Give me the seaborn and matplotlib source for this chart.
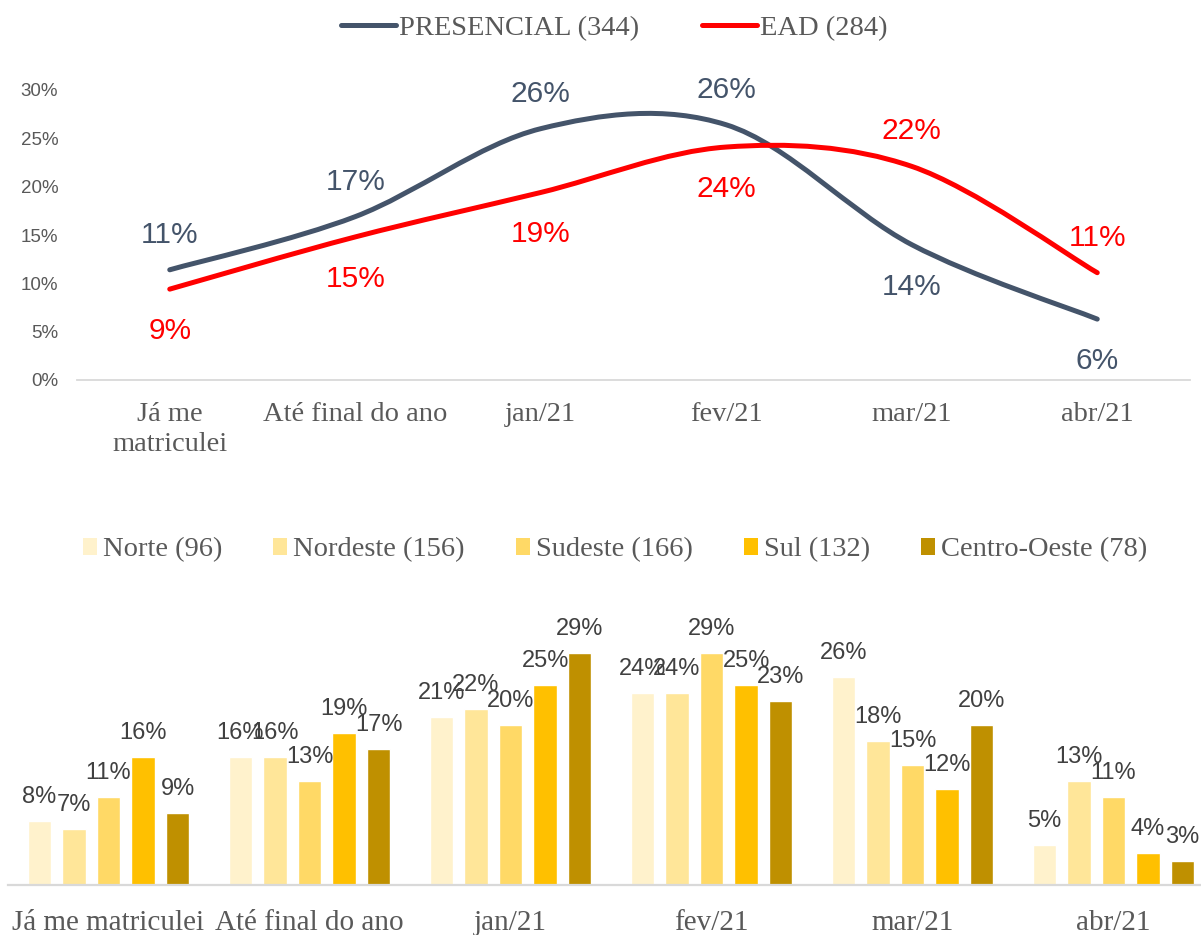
import numpy as np
import pandas as pd
import matplotlib
matplotlib.use('Agg')
import matplotlib.pyplot as plt
import seaborn as sns
from matplotlib.path import Path
from matplotlib.patches import PathPatch, Patch
from matplotlib.lines import Line2D
from matplotlib.ticker import PercentFormatter

# ==========================================
# DADOS
# ==========================================
CATEGORIES = ["Já me matriculei", "Até final do ano", "jan/21", "fev/21", "mar/21", "abr/21"]
TOP_TICK_LABELS = ["Já me\nmatriculei", "Até final do ano", "jan/21", "fev/21", "mar/21", "abr/21"]

PRESENCIAL = [0.114, 0.169, 0.260, 0.264, 0.140, 0.063]
EAD = [0.094, 0.148, 0.194, 0.241, 0.221, 0.111]
LINE_NAMES = ["PRESENCIAL (344)", "EAD (284)"]

REGIONS = ["Norte (96)", "Nordeste (156)", "Sudeste (166)", "Sul (132)", "Centro-Oeste (78)"]
NORTE = [0.08, 0.16, 0.21, 0.24, 0.26, 0.05]
NORDESTE = [0.07, 0.16, 0.22, 0.24, 0.18, 0.13]
SUDESTE = [0.11, 0.13, 0.20, 0.29, 0.15, 0.11]
SUL = [0.16, 0.19, 0.25, 0.25, 0.12, 0.04]
CENTRO_OESTE = [0.09, 0.17, 0.29, 0.23, 0.20, 0.03]

# ==========================================
# ESTILO
# ==========================================
LINE_COLORS = ["#44546A", "#FF0000"]
BAR_COLORS = ["#FFF2CC", "#FFE699", "#FFD966", "#FFC000", "#BF9000"]
TEXT_GRAY = "#595959"
LABEL_GRAY = "#404040"
AXIS_GRAY = "#D9D9D9"
SERIF = ["Liberation Serif", "DejaVu Serif"]
SANS = ["Liberation Sans", "DejaVu Sans"]

W, H = 1201, 935


def smooth_path(values):
    """Curva suavizada (estilo Excel) passando pelos pontos, em coordenadas de dados."""
    pts = np.column_stack([np.arange(len(values)), values]).astype(float)
    verts = [pts[0]]
    codes = [Path.MOVETO]
    n = len(pts)
    for i in range(n - 1):
        p_prev = pts[i - 1] if i > 0 else pts[i]
        p_next = pts[i + 2] if i + 2 < n else pts[i + 1]
        c1 = pts[i] + (pts[i + 1] - p_prev) / 6
        c2 = pts[i + 1] - (p_next - pts[i]) / 6
        verts += [c1, c2, pts[i + 1]]
        codes += [Path.CURVE4] * 3
    return Path(verts, codes)


def plot_lines(fig):
    ax = fig.add_axes([77 / W, (H - 380) / H, 1113 / W, 290 / H])
    ax.set_xlim(-0.5, len(CATEGORIES) - 0.5)
    ax.set_ylim(0, 0.30)

    series = [PRESENCIAL, EAD]
    for k, (vals, color) in enumerate(zip(series, LINE_COLORS)):
        patch = PathPatch(smooth_path(vals), facecolor="none", edgecolor=color,
                          lw=3.6, capstyle="round", joinstyle="round", zorder=3 + k)
        ax.add_patch(patch)
        other = series[1 - k]
        for i, v in enumerate(vals):
            above = v >= other[i]
            ax.annotate(f"{v:.0%}", (i, v), xytext=(0, 19.5 if above else -36),
                        textcoords="offset points", ha="center", va="baseline",
                        fontsize=21.5, color=color, family=SANS, annotation_clip=False)

    ax.set_yticks(np.arange(0, 0.301, 0.05))
    ax.yaxis.set_major_formatter(PercentFormatter(1.0, decimals=0))
    ax.set_xticks(range(len(CATEGORIES)))
    ax.set_xticklabels(TOP_TICK_LABELS)
    ax.tick_params(axis="y", length=0, pad=13.5, labelsize=13.5, labelcolor=TEXT_GRAY)
    ax.tick_params(axis="x", length=0, pad=15.5, labelsize=20.5, labelcolor=TEXT_GRAY)
    for lbl in ax.get_xticklabels():
        lbl.set_family(SERIF)
        lbl.set_linespacing(1.3)
    for lbl in ax.get_yticklabels():
        lbl.set_family(SANS)
    for s in ["top", "right", "left"]:
        ax.spines[s].set_visible(False)
    ax.spines["bottom"].set_color(AXIS_GRAY)
    ax.spines["bottom"].set_linewidth(1.3)
    ax.grid(False)

    handles = [Line2D([], [], color=c, lw=3.6, solid_capstyle="round") for c in LINE_COLORS]
    fig.legend(handles, LINE_NAMES, loc="center", bbox_to_anchor=(614 / W, 1 - 28 / H),
               ncol=2, frameon=False, prop={"family": SERIF, "size": 20.5},
               labelcolor=TEXT_GRAY, handlelength=1.95, handletextpad=0.1, columnspacing=2.2)


def plot_bars(fig):
    ax = fig.add_axes([8 / W, (H - 885) / H, 1206 / W, 240 / H])
    region_values = [NORTE, NORDESTE, SUDESTE, SUL, CENTRO_OESTE]
    df = pd.DataFrame({
        "categoria": CATEGORIES * len(REGIONS),
        "regiao": [r for r in REGIONS for _ in CATEGORIES],
        "valor": [v for vals in region_values for v in vals],
    })
    sns.barplot(data=df, x="categoria", y="valor", hue="regiao", order=CATEGORIES,
                hue_order=REGIONS, palette=BAR_COLORS, width=0.86, gap=0.32,
                saturation=1, legend=False, ax=ax, errorbar=None)
    for cont, vals in zip(ax.containers, region_values):
        ax.bar_label(cont, labels=[f"{v:.0%}" for v in vals], padding=9.5,
                     fontsize=17, color=LABEL_GRAY, family=SANS, clip_on=False)

    ax.set_xlim(-0.5, len(CATEGORIES) - 0.5)
    ax.set_ylim(0, 0.30)
    ax.set_xlabel("")
    ax.set_ylabel("")
    ax.set_yticks([])
    ax.tick_params(axis="x", length=0, pad=18, labelsize=21, labelcolor=TEXT_GRAY)
    for lbl in ax.get_xticklabels():
        lbl.set_family(SERIF)
    for s in ["top", "right", "left"]:
        ax.spines[s].set_visible(False)
    ax.spines["bottom"].set_color(AXIS_GRAY)
    ax.spines["bottom"].set_linewidth(1.6)
    ax.grid(False)

    handles = [Patch(facecolor=c, edgecolor="none") for c in BAR_COLORS]
    fig.legend(handles, REGIONS, loc="center", bbox_to_anchor=(615 / W, 1 - 550 / H),
               ncol=5, frameon=False, prop={"family": SERIF, "size": 20.5},
               labelcolor=TEXT_GRAY, handlelength=0.5, handleheight=0.5,
               handletextpad=0.2, columnspacing=1.8)


if __name__ == "__main__":
    sns.set_theme(style="white")
    plt.rcParams["font.family"] = SANS
    fig = plt.figure(figsize=(W / 100, H / 100), dpi=100)
    fig.patch.set_facecolor("white")
    plot_lines(fig)
    plot_bars(fig)
    fig.savefig("out.png", dpi=100, facecolor="white")
